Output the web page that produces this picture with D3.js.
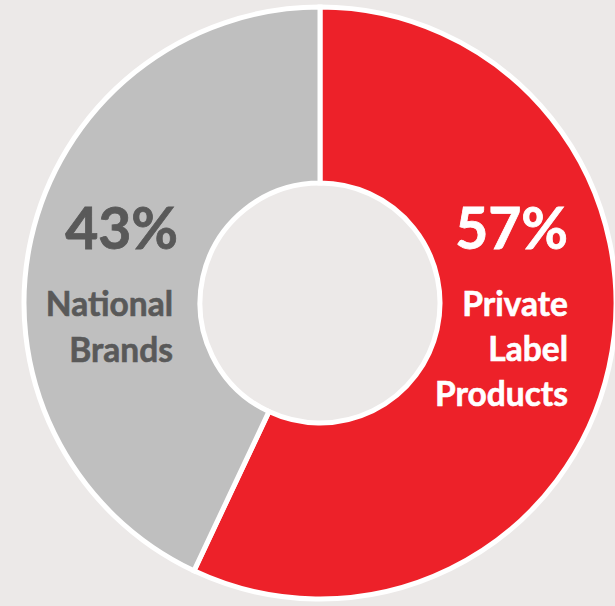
<!DOCTYPE html>
<html>
<head>
<meta charset="utf-8">
<script src="https://cdn.jsdelivr.net/npm/d3@7"></script>
<style>
  html, body { margin: 0; padding: 0; background: #ECE9E8; }
  svg { display: block; }
  text { font-family: Lato, "Open Sans", sans-serif; font-weight: bold; }
</style>
</head>
<body>
<div id="chart"></div>
<script>
// Data
const categories = ["Private Label Products", "National Brands"];
const values = [57, 43];
const percentLabels = ["57%", "43%"];
const nameLines = [["Private", "Label", "Products"], ["National", "Brands"]];
const colors = ["#ED2129", "#BFBFBF"];
const textColors = ["#FFFFFF", "#595959"];

const W = 615, H = 606;
const cx = 320, cy = 303;
const outerR = 296, innerR = 120;

const svg = d3.select("#chart").append("svg")
  .attr("width", W).attr("height", H);

svg.append("rect").attr("width", W).attr("height", H).attr("fill", "#ECE9E8");

const g = svg.append("g").attr("transform", `translate(${cx},${cy})`);

const pie = d3.pie().sort(null).value(d => d)(values);
const arc = d3.arc().innerRadius(innerR).outerRadius(outerR);

g.selectAll("path.slice")
  .data(pie)
  .join("path")
  .attr("class", "slice")
  .attr("d", arc)
  .attr("fill", (d, i) => colors[i])
  .attr("stroke", "#FFFFFF")
  .attr("stroke-width", 5)
  .attr("stroke-linejoin", "miter");

// Labels (positioned relative to the donut geometry)
const labelSpec = [
  { x: 248, pctY: -54, lineY0: 13, lineGap: 45 },               // Private label (right side)
  { x: -142, pctY: -54, lineY0: 13, lineGap: 46, nameX: -147 }  // National (left side)
];

pie.forEach((d, i) => {
  const s = labelSpec[i];
  g.append("text")
    .attr("x", s.x)
    .attr("y", s.pctY)
    .attr("text-anchor", "end")
    .attr("fill", textColors[i])
    .attr("stroke", textColors[i])
    .attr("stroke-width", 0.8)
    .attr("font-size", 57)
    .text(percentLabels[i]);
  nameLines[i].forEach((line, j) => {
    g.append("text")
      .attr("x", s.nameX !== undefined ? s.nameX : s.x)
      .attr("y", s.lineY0 + j * s.lineGap)
      .attr("text-anchor", "end")
      .attr("fill", textColors[i])
      .attr("stroke", textColors[i])
      .attr("stroke-width", 0.6)
      .attr("font-size", 33.5)
      .text(line);
  });
});
</script>
</body>
</html>
